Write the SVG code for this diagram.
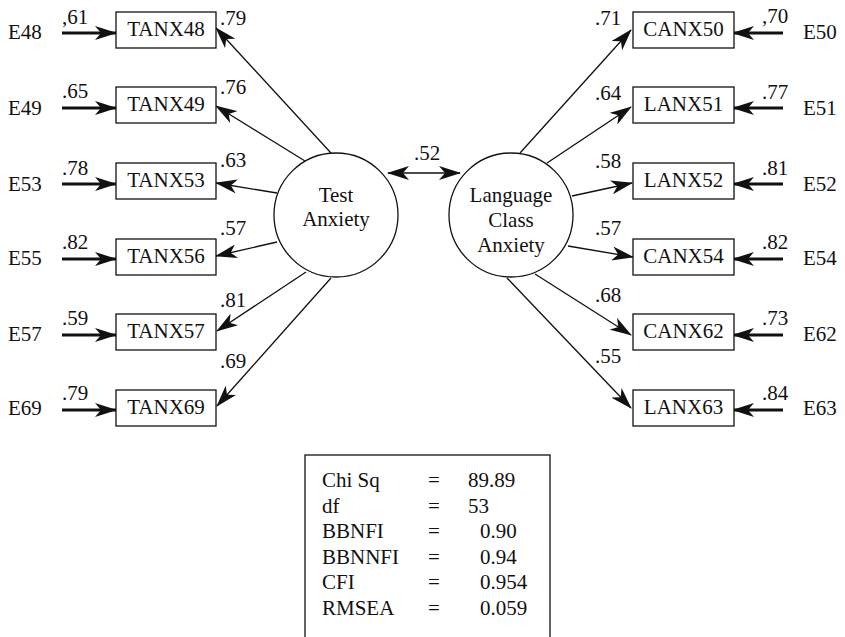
<svg xmlns="http://www.w3.org/2000/svg" width="845" height="637" viewBox="0 0 845 637">
  <style>
    text { font-family: "Liberation Serif", "Times New Roman", serif; font-size: 21px; fill: #111; }
    .box { fill: #fff; stroke: #111; stroke-width: 1.3; }
    .lat { fill: #fff; stroke: #111; stroke-width: 1.3; }
    .mid { text-anchor: middle; }
    .load { fill: none; stroke: #111; stroke-width: 1.3; marker-end: url(#head); }
    .err { fill: none; stroke: #111; stroke-width: 3.2; marker-end: url(#headBold); }
  </style>
  <defs>
    <marker id="head" markerUnits="userSpaceOnUse" viewBox="0 0 22 14" refX="21" refY="7" markerWidth="22" markerHeight="14" orient="auto-start-reverse">
      <path d="M0,0 L22,7 L0,14 L6,7 z" fill="#111"/>
    </marker>
    <marker id="headBold" markerUnits="userSpaceOnUse" viewBox="0 0 22 14" refX="21" refY="7" markerWidth="22" markerHeight="14" orient="auto">
      <path d="M0,0 L22,7 L0,14 L6,7 z" fill="#111"/>
    </marker>
  </defs>

  <!-- connectors -->
  <g id="connectors">
    <!-- Test Anxiety loadings -->
    <path class="load" d="M331,153 L216,28"/>
    <path class="load" d="M305,161 L216,106"/>
    <path class="load" d="M277,193 L216,183"/>
    <path class="load" d="M277,242 L216,256"/>
    <path class="load" d="M306,272 L217,331"/>
    <path class="load" d="M331,278 L217,406"/>
    <!-- Language Class Anxiety loadings -->
    <path class="load" d="M520,153 L631,30"/>
    <path class="load" d="M547,163 L631,107"/>
    <path class="load" d="M572,196 L632,183"/>
    <path class="load" d="M568,246 L633,257"/>
    <path class="load" d="M535,274 L631,335"/>
    <path class="load" d="M507,278 L631,408"/>
    <!-- factor covariance -->
    <path class="load" d="M388,173 L460,173" marker-start="url(#head)"/>
    <!-- error terms, left -->
    <path class="err" d="M62,33 L116,33"/>
    <path class="err" d="M62,108 L116,108"/>
    <path class="err" d="M62,184 L116,184"/>
    <path class="err" d="M62,259 L116,259"/>
    <path class="err" d="M62,335 L116,335"/>
    <path class="err" d="M62,410 L116,410"/>
    <!-- error terms, right -->
    <path class="err" d="M783,33 L733,33"/>
    <path class="err" d="M783,108 L733,108"/>
    <path class="err" d="M783,184 L733,184"/>
    <path class="err" d="M783,259 L733,259"/>
    <path class="err" d="M783,335 L733,335"/>
    <path class="err" d="M783,410 L733,410"/>
  </g>

  <!-- connector labels -->
  <g id="labels">
    <text x="220" y="25">.79</text>
    <text x="220" y="94">.76</text>
    <text x="220" y="167">.63</text>
    <text x="220" y="235">.57</text>
    <text x="220" y="307">.81</text>
    <text x="220" y="368">.69</text>
    <text x="595" y="25">.71</text>
    <text x="595" y="100">.64</text>
    <text x="595" y="168">.58</text>
    <text x="595" y="235">.57</text>
    <text x="595" y="302">.68</text>
    <text x="595" y="363">.55</text>
    <text x="414" y="160">.52</text>
    <text x="62" y="24">,61</text>
    <text x="62" y="98">.65</text>
    <text x="62" y="175">.78</text>
    <text x="62" y="249">.82</text>
    <text x="62" y="325">.59</text>
    <text x="62" y="400">.79</text>
    <text x="762" y="23">,70</text>
    <text x="762" y="99">.77</text>
    <text x="762" y="175">.81</text>
    <text x="762" y="249">.82</text>
    <text x="762" y="325">.73</text>
    <text x="762" y="400">.84</text>
  </g>

  <!-- error terms -->
  <g id="E48"><text x="8" y="39">E48</text></g>
  <g id="E49"><text x="8" y="115">E49</text></g>
  <g id="E53"><text x="8" y="191">E53</text></g>
  <g id="E55"><text x="8" y="265">E55</text></g>
  <g id="E57"><text x="8" y="341">E57</text></g>
  <g id="E69"><text x="8" y="415">E69</text></g>
  <g id="E50"><text x="803" y="39">E50</text></g>
  <g id="E51"><text x="803" y="115">E51</text></g>
  <g id="E52"><text x="803" y="191">E52</text></g>
  <g id="E54"><text x="803" y="265">E54</text></g>
  <g id="E62"><text x="803" y="341">E62</text></g>
  <g id="E63"><text x="803" y="415">E63</text></g>

  <!-- observed indicators -->
  <g id="TANX48"><rect class="box" x="116" y="12" width="100" height="36"/><text class="mid" x="166" y="36">TANX48</text></g>
  <g id="TANX49"><rect class="box" x="116" y="87" width="100" height="36"/><text class="mid" x="166" y="111">TANX49</text></g>
  <g id="TANX53"><rect class="box" x="116" y="163" width="100" height="36"/><text class="mid" x="166" y="187">TANX53</text></g>
  <g id="TANX56"><rect class="box" x="116" y="239" width="100" height="36"/><text class="mid" x="166" y="263">TANX56</text></g>
  <g id="TANX57"><rect class="box" x="116" y="314" width="100" height="36"/><text class="mid" x="166" y="338">TANX57</text></g>
  <g id="TANX69"><rect class="box" x="116" y="390" width="100" height="36"/><text class="mid" x="166" y="414">TANX69</text></g>
  <g id="CANX50"><rect class="box" x="633" y="12" width="101" height="36"/><text class="mid" x="683.5" y="36">CANX50</text></g>
  <g id="LANX51"><rect class="box" x="633" y="87" width="101" height="36"/><text class="mid" x="683.5" y="111">LANX51</text></g>
  <g id="LANX52"><rect class="box" x="633" y="163" width="101" height="36"/><text class="mid" x="683.5" y="187">LANX52</text></g>
  <g id="CANX54"><rect class="box" x="633" y="239" width="101" height="36"/><text class="mid" x="683.5" y="263">CANX54</text></g>
  <g id="CANX62"><rect class="box" x="633" y="314" width="101" height="36"/><text class="mid" x="683.5" y="338">CANX62</text></g>
  <g id="LANX63"><rect class="box" x="633" y="390" width="101" height="36"/><text class="mid" x="683.5" y="414">LANX63</text></g>

  <!-- latent factors -->
  <g id="test-anxiety">
    <circle class="lat" cx="336" cy="215" r="62"/>
    <text class="mid" x="336" y="202">Test</text>
    <text class="mid" x="336" y="226">Anxiety</text>
  </g>
  <g id="language-class-anxiety">
    <circle class="lat" cx="511" cy="215" r="62"/>
    <text class="mid" x="511" y="202">Language</text>
    <text class="mid" x="511" y="227">Class</text>
    <text class="mid" x="511" y="252">Anxiety</text>
  </g>

  <!-- fit statistics -->
  <g id="fit-stats">
    <rect class="box" x="305" y="455" width="245" height="200"/>
    <text x="322" y="487">Chi Sq</text><text x="428" y="487">=</text><text x="468" y="487">89.89</text>
    <text x="322" y="512.5">df</text><text x="428" y="512.5">=</text><text x="468" y="512.5">53</text>
    <text x="322" y="538">BBNFI</text><text x="428" y="538">=</text><text x="480" y="538">0.90</text>
    <text x="322" y="563.5">BBNNFI</text><text x="428" y="563.5">=</text><text x="480" y="563.5">0.94</text>
    <text x="322" y="589">CFI</text><text x="428" y="589">=</text><text x="480" y="589">0.954</text>
    <text x="322" y="615">RMSEA</text><text x="428" y="615">=</text><text x="480" y="615">0.059</text>
  </g>
</svg>
